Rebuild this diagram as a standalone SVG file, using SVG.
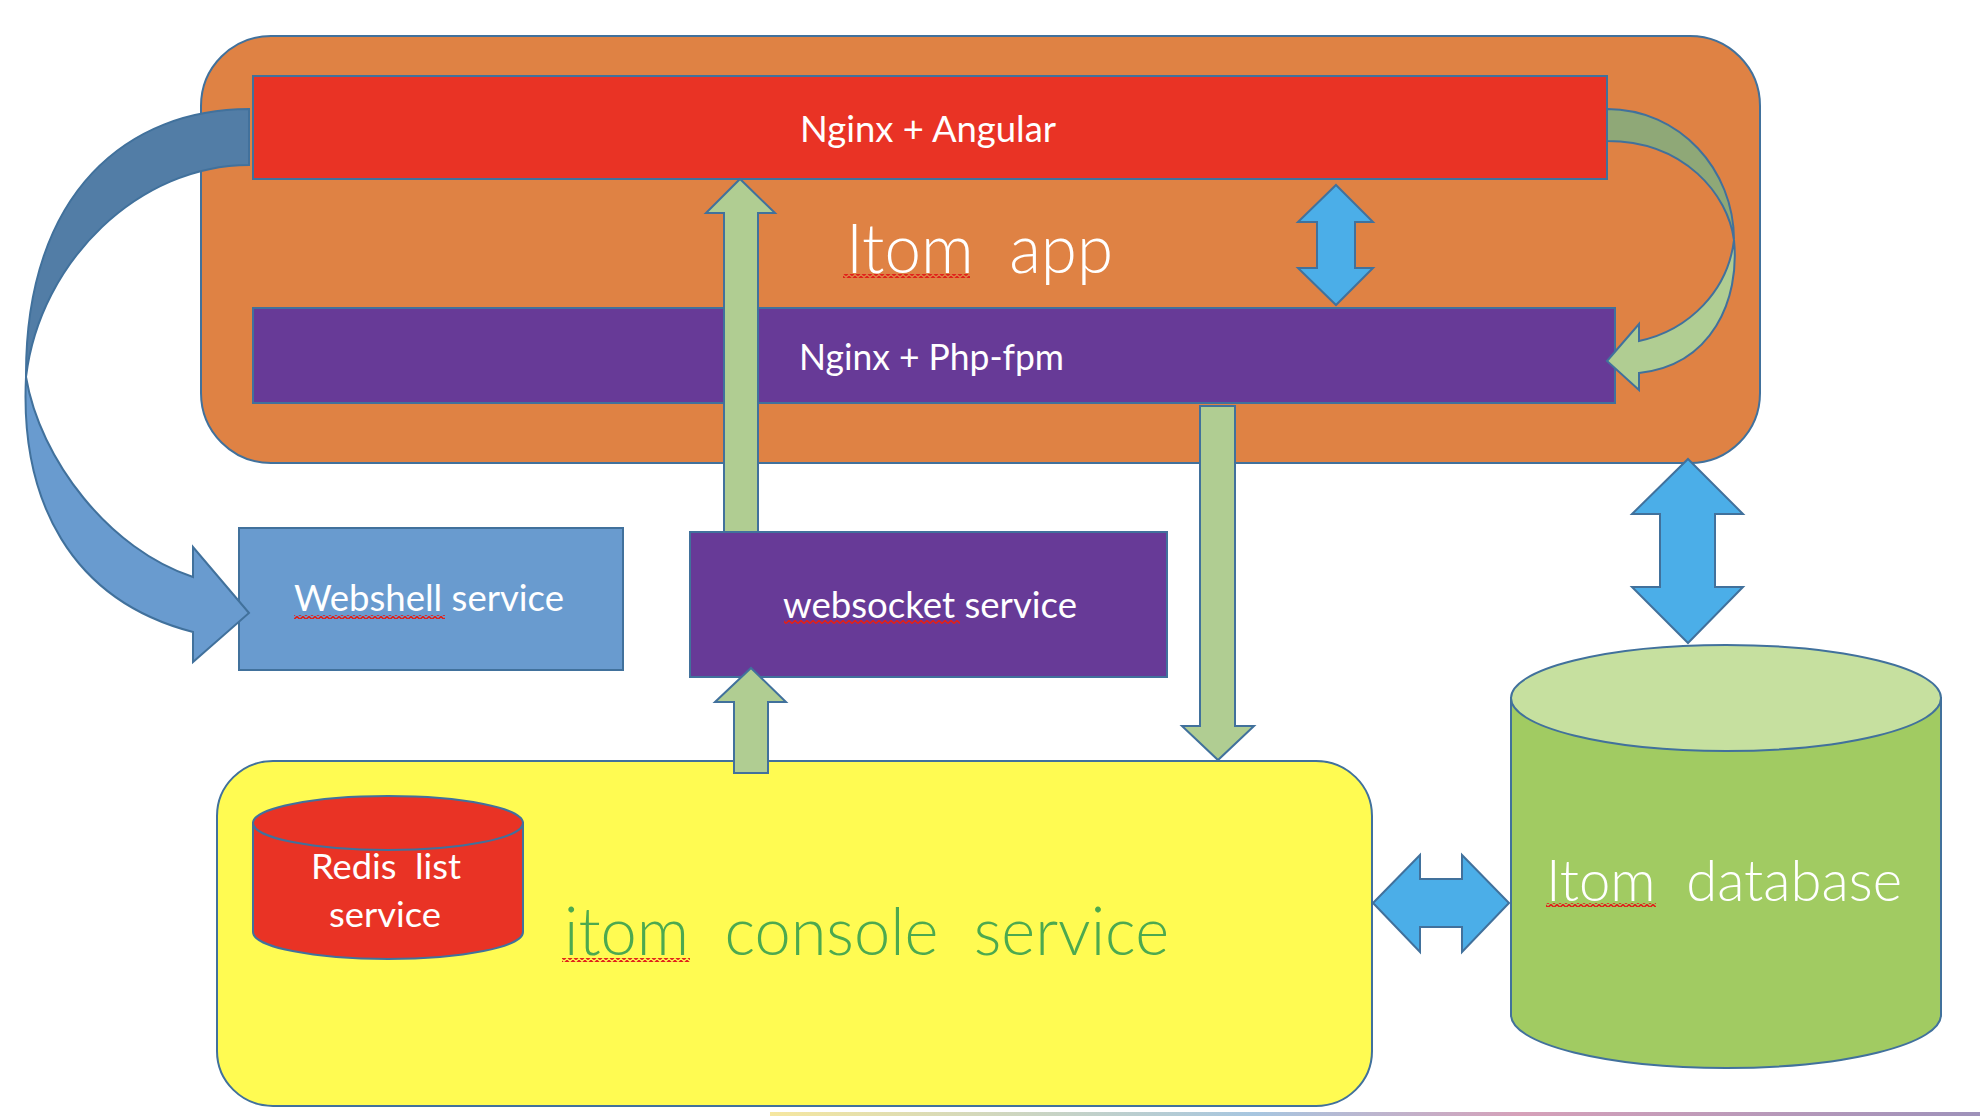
<svg xmlns="http://www.w3.org/2000/svg" width="1980" height="1116" viewBox="0 0 1980 1116">
<style>
.ol{stroke:#41719C;stroke-width:2;stroke-linejoin:miter}
.t{font-family:Lato,"Open Sans","Liberation Sans",sans-serif;fill:#FFFFFF;white-space:pre}
.lt{font-weight:300}
.green{fill:#B0CD92}
.blue{fill:#4BAEE8}
</style>
<defs>
<pattern id="sq" x="0" y="0" width="6" height="4" patternUnits="userSpaceOnUse">
<path d="M0,3.5 L3,0.5 L6,3.5" fill="none" stroke="#E0201A" stroke-width="1.6"/>
</pattern>
<linearGradient id="bar" x1="0" y1="0" x2="1" y2="0">
<stop offset="0" stop-color="#F6E7A0"/>
<stop offset="0.4" stop-color="#A7C6E0"/>
<stop offset="0.62" stop-color="#D6A1B9"/>
<stop offset="1" stop-color="#9E92BA"/>
</linearGradient>
</defs>
<rect x="0" y="0" width="1980" height="1116" fill="#FFFFFF"/>

<g id="itom-app">
<rect class="ol" x="201" y="36" width="1559" height="427" rx="70" ry="70" fill="#DF8244"/>
<text class="t lt" x="846" y="273" font-size="68" textLength="267" lengthAdjust="spacingAndGlyphs">Itom  app</text>
<rect x="843" y="274" width="127" height="4" fill="url(#sq)"/>
</g>

<g id="nginx-angular">
<rect class="ol" x="253" y="76" width="1354" height="103" fill="#E93325"/>
<text class="t" x="800" y="142" font-size="37" textLength="256" lengthAdjust="spacingAndGlyphs">Nginx + Angular</text>
</g>

<g id="nginx-php">
<rect class="ol" x="253" y="308" width="1362" height="95" fill="#673A97"/>
<text class="t" x="799" y="370" font-size="37" textLength="265" lengthAdjust="spacingAndGlyphs">Nginx + Php-fpm</text>
</g>

<g id="webshell">
<rect class="ol" x="239" y="528" width="384" height="142" fill="#699BCF"/>
<text class="t" x="294" y="611" font-size="36" textLength="270" lengthAdjust="spacingAndGlyphs">Webshell service</text>
<rect x="294" y="615" width="151" height="4" fill="url(#sq)"/>
</g>

<g id="websocket">
<rect class="ol" x="690" y="532" width="477" height="145" fill="#673A97"/>
<text class="t" x="783" y="618" font-size="36" textLength="294" lengthAdjust="spacingAndGlyphs">websocket service</text>
<rect x="784" y="620" width="176" height="4" fill="url(#sq)"/>
</g>

<g id="console">
<rect class="ol" x="217" y="761" width="1155" height="345" rx="56" ry="55" fill="#FFFB52"/>
<text class="t lt" x="564" y="955" font-size="67" textLength="605" lengthAdjust="spacingAndGlyphs" style="fill:#4CA94F">itom  console  service</text>
<rect x="562" y="958" width="128" height="4" fill="url(#sq)"/>
</g>

<g id="redis">
<path class="ol" d="M253,823 L253,932 A135,27 0 0 0 523,932 L523,823 Z" fill="#E93325"/>
<ellipse class="ol" cx="388" cy="823" rx="135" ry="27" fill="#E93325"/>
<text class="t" x="311" y="879" font-size="34" textLength="150" lengthAdjust="spacingAndGlyphs">Redis  list</text>
<text class="t" x="329" y="927" font-size="34" textLength="112" lengthAdjust="spacingAndGlyphs">service</text>
</g>

<g id="database">
<path class="ol" d="M1511,698 L1511,1015 A215,53 0 0 0 1941,1015 L1941,698 Z" fill="#A1CB62"/>
<ellipse class="ol" cx="1726" cy="698" rx="215" ry="53" fill="#C6E09F"/>
<text class="t lt" x="1546" y="901" font-size="58" textLength="356" lengthAdjust="spacingAndGlyphs">Itom  database</text>
<rect x="1546" y="903" width="110" height="4" fill="url(#sq)"/>
</g>

<g id="connectors">
<polygon class="ol blue" points="1336,185 1373,222 1355,222 1355,268 1373,268 1336,305 1298,268 1317,268 1317,222 1298,222"/>
<path class="ol" d="M1607,109 C1680,109 1734,170 1734,240 C1728,195 1685,141 1607,141 Z" fill="#8FA877"/>
<path class="ol green" d="M1734,240 C1740,300 1712,365 1639,373 L1639,390 L1607,361 L1639,324 L1639,341 C1690,330 1728,290 1734,240 Z"/>
<polygon class="ol green" points="724,532 724,213 706,213 740,179 775,213 758,213 758,532"/>
<polygon class="ol green" points="1200,406 1235,406 1235,726 1254,726 1218,760 1182,726 1200,726"/>
<polygon class="ol green" points="734,773 734,702 715,702 751,668 786,702 768,702 768,773"/>
<path class="ol" d="M249,109 C130,109 25,190 26,377 C40,260 140,165 249,165 Z" fill="#527DA6"/>
<path class="ol" d="M26,377 C20,500 70,600 193,632 L193,662 L249,613 L193,547 L193,577 C110,550 40,460 26,377 Z" fill="#699BCF"/>
<polygon class="ol blue" points="1688,459 1743,514 1715,514 1715,587 1743,587 1688,643 1632,587 1660,587 1660,514 1632,514"/>
<polygon class="ol blue" points="1373,903 1420,855 1420,879 1462,879 1462,855 1509,903 1462,952 1462,927 1420,927 1420,952"/>
</g>

<rect x="770" y="1112" width="1210" height="4" fill="url(#bar)"/>
</svg>
